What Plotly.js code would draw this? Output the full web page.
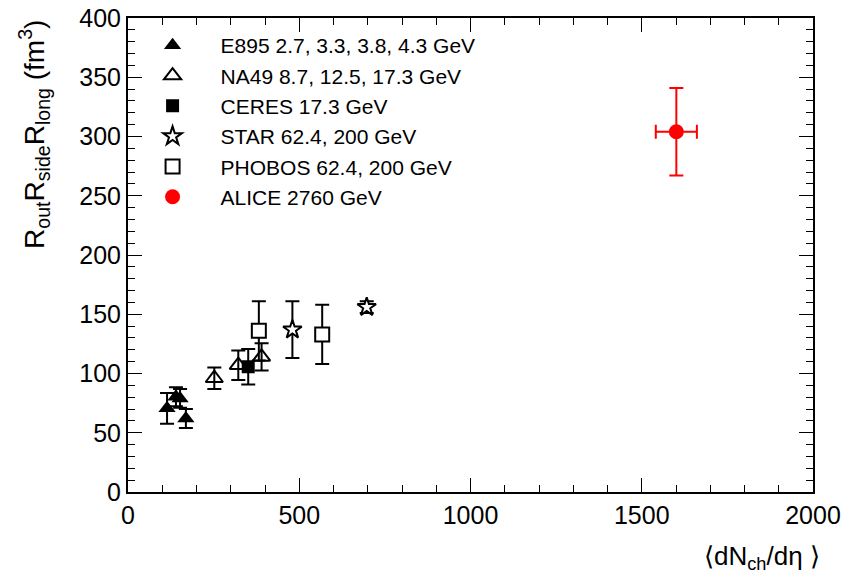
<!DOCTYPE html>
<html>
<head>
<meta charset="utf-8">
<script src="https://cdn.plot.ly/plotly-3.0.1.min.js"></script>
<style>html,body{margin:0;padding:0;background:#fff;}#chart{width:849px;height:583px;}</style>
</head>
<body>
<div id="chart"></div>
<script>
// Data
const e895X = [114, 140, 152, 169];
const e895Y = [70.6, 80.4, 79, 62];
const e895Err = [13, 8, 8, 8];

const na49X = [252, 322, 390];
const na49Y = [96, 107, 114];
const na49Err = [9, 12.5, 11.5];

const ceresX = [351];
const ceresY = [105.7];
const ceresErr = [15];

const starX = [480, 697];
const starY = [137, 156];
const starErr = [24, 5];

const phobosX = [382, 567];
const phobosY = [136, 133];
const phobosErr = [25, 25];

const aliceX = [1601];
const aliceY = [304];
const aliceErrY = [37];
const aliceErrX = [60];

const legendNames = [
  "E895 2.7, 3.3, 3.8, 4.3 GeV",
  "NA49 8.7, 12.5, 17.3 GeV",
  "CERES 17.3 GeV",
  "STAR 62.4, 200 GeV",
  "PHOBOS 62.4, 200 GeV",
  "ALICE 2760 GeV"
];

function ey(arr, color) {
  return {type: 'data', array: arr, visible: true, color: color || 'black', thickness: 2, width: 7};
}

const traces = [
  {x: e895X, y: e895Y, name: legendNames[0], legendgroup: 'g1', mode: 'markers', type: 'scatter',
   marker: {symbol: 'triangle-up', size: 15, color: 'black'}, error_y: ey(e895Err)},
  {x: na49X, y: na49Y, name: legendNames[1], legendgroup: 'g2', mode: 'markers', type: 'scatter',
   marker: {symbol: 'triangle-up-open', size: 15, color: 'black', line: {width: 2, color: 'black'}}, error_y: ey(na49Err)},
  {x: ceresX, y: ceresY, name: legendNames[2], legendgroup: 'g3', mode: 'markers', type: 'scatter',
   marker: {symbol: 'square', size: 13, color: 'black'}, error_y: ey(ceresErr)},
  {x: starX, y: starY, name: legendNames[3], legendgroup: 'g4', mode: 'markers', type: 'scatter',
   marker: {symbol: 'star', size: 14, color: 'white', line: {width: 2, color: 'black'}}, error_y: ey(starErr)},
  {x: phobosX, y: phobosY, name: legendNames[4], legendgroup: 'g5', mode: 'markers', type: 'scatter',
   marker: {symbol: 'square', size: 14, color: 'white', line: {width: 2, color: 'black'}}, error_y: ey(phobosErr)},
  {x: aliceX, y: aliceY, name: legendNames[5], legendgroup: 'g6', mode: 'markers', type: 'scatter',
   marker: {symbol: 'circle', size: 15, color: 'red'},
   error_y: ey(aliceErrY, 'red'), error_x: ey(aliceErrX, 'red')}
];

const font = "Liberation Sans, Arial, sans-serif";

const layout = {
  width: 849, height: 583,
  margin: {l: 128, r: 36, t: 18, b: 91},
  paper_bgcolor: 'white', plot_bgcolor: 'white',
  font: {family: font, color: 'black', size: 24},
  showlegend: true,
  legend: {
    x: -0.005, y: 0.985, xanchor: 'left', yanchor: 'top',
    bgcolor: 'rgba(0,0,0,0)', borderwidth: 0,
    font: {family: font, size: 21, color: 'black'},
    traceorder: 'grouped', tracegroupgap: 0, itemwidth: 86
  },
  xaxis: {
    range: [0, 2000], dtick: 500, tick0: 0,
    showgrid: false, zeroline: false,
    showline: true, linecolor: 'black', linewidth: 2, mirror: 'ticks',
    ticks: 'inside', ticklen: 14, tickwidth: 1, tickcolor: 'black',
    minor: {dtick: 100, ticks: 'inside', ticklen: 7, tickwidth: 1, tickcolor: 'black', showgrid: false},
    tickfont: {family: font, size: 25}
  },
  yaxis: {
    range: [0, 400], dtick: 50, tick0: 0,
    showgrid: false, zeroline: false,
    showline: true, linecolor: 'black', linewidth: 2, mirror: 'ticks',
    ticks: 'inside', ticklen: 14, tickwidth: 1, tickcolor: 'black',
    minor: {dtick: 10, ticks: 'inside', ticklen: 7, tickwidth: 1, tickcolor: 'black', showgrid: false},
    tickfont: {family: font, size: 25}
  },
  annotations: [
    {text: "R<sub>out</sub>R<sub>side</sub>R<sub>long</sub> (fm<sup>3</sup>)",
     xref: 'paper', yref: 'paper', x: -0.138, y: 1.0, xanchor: 'center', yanchor: 'top',
     textangle: -90, showarrow: false, font: {family: font, size: 28, color: 'black'}},
    {text: "\u27E8dN<sub>ch</sub>/d\u03B7 \u27E9",
     xref: 'paper', yref: 'paper', x: 1.013, y: -0.1, xanchor: 'right', yanchor: 'top',
     showarrow: false, font: {family: font, size: 26, color: 'black'}}
  ]
};

Plotly.newPlot('chart', traces, layout, {displayModeBar: false, staticPlot: true});
</script>
</body>
</html>
